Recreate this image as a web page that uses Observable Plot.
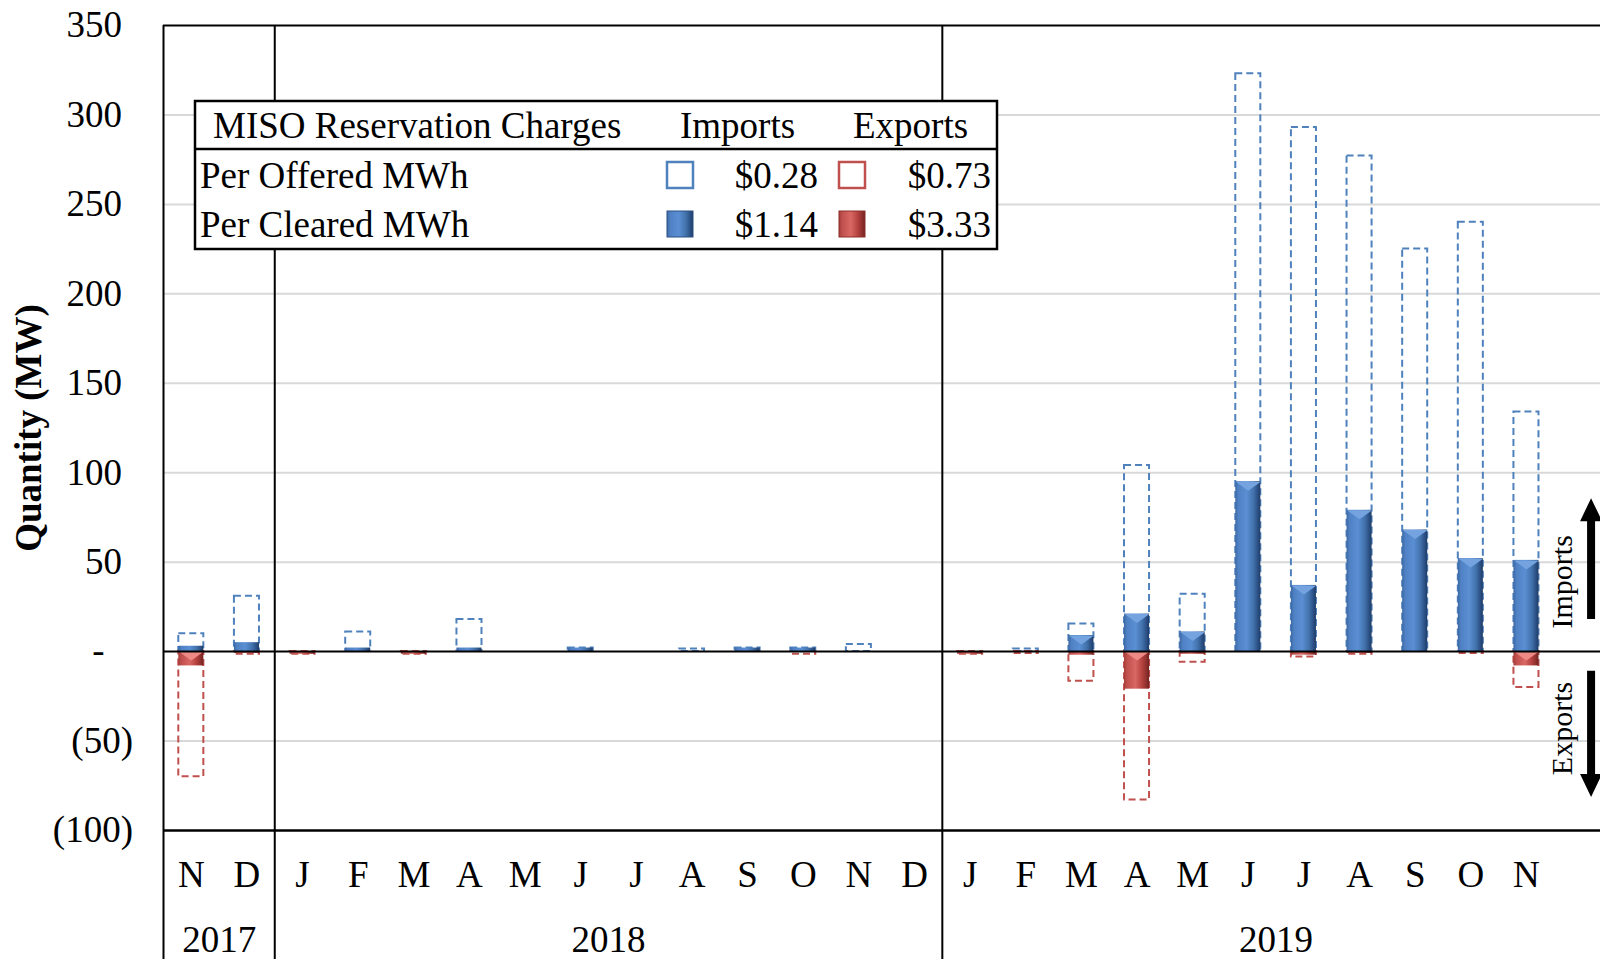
<!DOCTYPE html>
<html>
<head>
<meta charset="utf-8">
<script src="https://cdn.jsdelivr.net/npm/d3@7"></script>
<script src="https://cdn.jsdelivr.net/npm/@observablehq/plot@0.6"></script>
<style>
  html, body { margin: 0; padding: 0; background: #fff; overflow: hidden; }
  #chart svg { display: block; }
</style>
</head>
<body>
<div id="chart"></div>
<script>
// Monthly MISO reservation quantities (MW), Nov 2017 - Nov 2019
const months = [
  "2017-11", "2017-12",
  "2018-01", "2018-02", "2018-03", "2018-04", "2018-05", "2018-06",
  "2018-07", "2018-08", "2018-09", "2018-10", "2018-11", "2018-12",
  "2019-01", "2019-02", "2019-03", "2019-04", "2019-05", "2019-06",
  "2019-07", "2019-08", "2019-09", "2019-10", "2019-11"
];
const monthLetters = [
  "N", "D",
  "J", "F", "M", "A", "M", "J", "J", "A", "S", "O", "N", "D",
  "J", "F", "M", "A", "M", "J", "J", "A", "S", "O", "N"
];
// the 2019 group keeps an empty December slot
const categories = [...months, "2019-12"];
const years = ["2017", "2018", "2019"];

const importsOffered = [10, 31, 0, 11, 0, 18, 0, 2, 0, 1.5, 2, 2, 4, 0, 0, 1.5, 15.5, 104, 32, 323, 293, 277, 225, 240, 134];
const importsCleared = [3, 5, 0, 2, 0, 2, 0, 2, 0, 0, 2, 2, 0, 0, 0, 0, 9, 21, 11, 95, 37, 79, 68, 52, 51];
const exportsOffered = [-70, -1.5, -1.5, 0, -1.5, 0, 0, 0, 0, 0, 0, -1.5, 0, 0, -1.5, -1, -16.5, -83, -6, 0, -3, -1.5, 0, -1, -20];
const exportsCleared = [-8, -1, -1.5, 0, -1.5, 0, 0, 0, 0, 0, 0, 0, 0, 0, -1.5, 0, -2, -21, -1.5, 0, -2, -1, 0, 0, -8];

const yTicks = [350, 300, 250, 200, 150, 100, 50, 0, -50, -100];
const yGrid = [300, 250, 200, 150, 100, 50, -50];

// legend table
const legendTitle = "MISO Reservation Charges";
const legendColumns = ["Imports", "Exports"];
const legendRows = ["Per Offered MWh", "Per Cleared MWh"];
const importCharges = ["$0.28", "$1.14"];
const exportCharges = ["$0.73", "$3.33"];

const rows = months.map((m, i) => ({
  month: m,
  impOff: importsOffered[i],
  impClr: importsCleared[i],
  expOff: exportsOffered[i],
  expClr: exportsCleared[i]
}));

const FONT = "'Liberation Serif', 'Times New Roman', serif";
const BLUE = "#4f81bd";
const RED = "#c0504d";
const W = 1600, H = 959;
const xRange = [163, 1609.4];
const yDomain = [-100, 350], yRange = [830, 25];
const step = (xRange[1] - xRange[0]) / categories.length;

const yScale = Plot.scale({y: {domain: yDomain, range: yRange}});
const yBottom = yScale.invert(H);

const fmt = (v) => v === 0 ? "-" : v < 0 ? `(${-v})` : `${v}`;

// flat bevel highlight at the top of each cleared bar
const bevel = {
  draw(ctx) {
    const w = step * 0.225, h = 9;
    ctx.moveTo(-w, 0);
    ctx.lineTo(w, 0);
    ctx.lineTo(0, h);
    ctx.closePath();
  }
};

// year labels sit at the middle of each year's group of months
const yearLabels = years.map((y) => {
  const idx = categories.map((c, i) => c.startsWith(y) ? i : -1).filter((i) => i >= 0);
  const mid = (idx[0] + idx[idx.length - 1]) / 2;
  return {year: y, key: categories[Math.floor(mid)], frac: mid - Math.floor(mid)};
});
const yearStarts = years.map((y) => categories.find((c) => c.startsWith(y)));

const chart = Plot.plot({
  width: W,
  height: H,
  marginLeft: 163,
  marginRight: 0,
  marginTop: 25,
  marginBottom: H - 830,
  style: {fontFamily: FONT, background: "#fff", overflow: "visible"},
  x: {type: "band", domain: categories, range: xRange, paddingInner: 0.55, paddingOuter: 0.275, round: false, axis: null},
  y: {domain: yDomain, range: yRange, axis: null},
  marks: [
    Plot.ruleY(yGrid, {stroke: "#d9d9d9", strokeWidth: 2}),
    // offered quantities: dashed outlines
    Plot.barY(rows.filter((d) => d.impOff !== 0), {x: "month", y: "impOff", fill: "none", stroke: BLUE, strokeWidth: 2, strokeDasharray: "7,4"}),
    Plot.barY(rows.filter((d) => d.expOff !== 0), {x: "month", y: "expOff", fill: "none", stroke: RED, strokeWidth: 2, strokeDasharray: "7,4"}),
    // cleared quantities: shaded bars
    Plot.barY(rows.filter((d) => d.impClr !== 0), {x: "month", y: "impClr", fill: "url(#gradBlue)"}),
    Plot.barY(rows.filter((d) => d.expClr !== 0), {x: "month", y: "expClr", fill: "url(#gradRed)"}),
    Plot.dot(rows.filter((d) => d.impClr >= 8), {x: "month", y: "impClr", symbol: bevel, fill: "#74a3df", stroke: "none"}),
    Plot.dot(rows.filter((d) => d.expClr <= -8), {x: "month", y: 0, symbol: bevel, fill: "#ee8a86", stroke: "none"}),
    // frame lines
    Plot.ruleY([350], {stroke: "#000", strokeWidth: 2}),
    Plot.ruleY([-100], {stroke: "#000", strokeWidth: 2.5}),
    Plot.ruleY([0], {stroke: "#000", strokeWidth: 2}),
    Plot.ruleX(yearStarts, {x: (d) => d, dx: -step / 2, y1: 350, y2: yBottom, stroke: "#000", strokeWidth: 2}),
    // y tick labels
    Plot.text(yTicks.filter((v) => v > 0), {y: (d) => d, text: fmt, frameAnchor: "left", textAnchor: "end", dx: -41.5, fontSize: 37}),
    Plot.text(yTicks.filter((v) => v < 0), {y: (d) => d, text: fmt, frameAnchor: "left", textAnchor: "end", dx: -30.5, fontSize: 37}),
    Plot.text([0], {y: (d) => d, text: fmt, frameAnchor: "left", textAnchor: "middle", dx: -65, fontSize: 37}),
    Plot.text(["Quantity (MW)"], {frameAnchor: "left", textAnchor: "middle", dx: -134.5, rotate: -90, fontSize: 37, fontWeight: "bold"}),
    // month and year labels
    Plot.text(months, {x: (d) => d, text: (d, i) => monthLetters[i], frameAnchor: "bottom", dy: 56, fontSize: 37}),
    Plot.text(yearLabels, {x: "key", text: "year", frameAnchor: "bottom", dx: step / 2, dy: 121, fontSize: 37}),
    // direction annotations
    Plot.text(["Imports"], {x: () => "2019-12", y: () => 39, dx: -20, rotate: -90, fontSize: 30}),
    Plot.text(["Exports"], {x: () => "2019-12", y: () => -43, dx: -20, rotate: -90, fontSize: 30})
  ]
});

document.getElementById("chart").appendChild(chart);

const svg = d3.select(chart);
const defs = svg.insert("defs", ":first-child");
function gradient(id, stops) {
  const g = defs.append("linearGradient").attr("id", id).attr("x1", "0").attr("x2", "1").attr("y1", "0").attr("y2", "0");
  stops.forEach(([o, c]) => g.append("stop").attr("offset", o).attr("stop-color", c));
}
gradient("gradBlue", [[0, "#3b68a3"], [0.12, "#4f81c4"], [0.45, "#5a8fd3"], [0.72, "#4373ad"], [0.9, "#2b5085"], [1, "#1f3b63"]]);
gradient("gradRed", [[0, "#a33c39"], [0.12, "#c0504d"], [0.45, "#d96763"], [0.72, "#b5423f"], [0.9, "#8e2f2c"], [1, "#6e2321"]]);

// block arrows beside the Imports / Exports labels
const sx = chart.scale("x"), sy = chart.scale("y");
const ax = sx.apply("2019-12") + sx.bandwidth / 2 + 9.5;
const importsArrow = [18, 85.5];
const exportsArrow = [-11, -81.5];
function blockArrow(from, to) {
  const y0 = sy.apply(from), y1 = sy.apply(to);
  const dir = Math.sign(y1 - y0), head = 23, hw = 11, sw = 4;
  const yb = y1 - dir * head;
  svg.append("path")
    .attr("d", `M${ax - sw},${y0}L${ax + sw},${y0}L${ax + sw},${yb}L${ax + hw},${yb}L${ax},${y1}L${ax - hw},${yb}L${ax - sw},${yb}Z`)
    .attr("fill", "#000");
}
blockArrow(importsArrow[0], importsArrow[1]);
blockArrow(exportsArrow[0], exportsArrow[1]);

// legend table
const lg = svg.append("g").attr("font-family", FONT).attr("font-size", 37).attr("fill", "#000");
lg.append("rect").attr("x", 195).attr("y", 101).attr("width", 802).attr("height", 148)
  .attr("fill", "#fff").attr("stroke", "#000").attr("stroke-width", 2.5);
lg.append("line").attr("x1", 195).attr("x2", 997).attr("y1", 149).attr("y2", 149)
  .attr("stroke", "#000").attr("stroke-width", 2.5);
const txt = (s, x, y, anchor = "start") => lg.append("text").attr("x", x).attr("y", y)
  .attr("text-anchor", anchor).attr("dy", "0.35em").text(s);
txt(legendTitle, 213, 125);
txt(legendColumns[0], 680, 125);
txt(legendColumns[1], 853, 125);
const rowY = [175, 224];
legendRows.forEach((r, i) => {
  txt(r, 200, rowY[i]);
  txt(importCharges[i], 818, rowY[i], "end");
  txt(exportCharges[i], 991, rowY[i], "end");
  const sq = 26;
  if (i === 0) {
    lg.append("rect").attr("x", 667).attr("y", rowY[i] - sq / 2).attr("width", sq).attr("height", sq)
      .attr("fill", "#fff").attr("stroke", BLUE).attr("stroke-width", 2.5);
    lg.append("rect").attr("x", 839).attr("y", rowY[i] - sq / 2).attr("width", sq).attr("height", sq)
      .attr("fill", "#fff").attr("stroke", RED).attr("stroke-width", 2.5);
  } else {
    lg.append("rect").attr("x", 667).attr("y", rowY[i] - sq / 2).attr("width", sq).attr("height", sq)
      .attr("fill", "url(#gradBlue)").attr("stroke", "#2b5085").attr("stroke-width", 1);
    lg.append("rect").attr("x", 839).attr("y", rowY[i] - sq / 2).attr("width", sq).attr("height", sq)
      .attr("fill", "url(#gradRed)").attr("stroke", "#8e2f2c").attr("stroke-width", 1);
  }
});
</script>
</body>
</html>
